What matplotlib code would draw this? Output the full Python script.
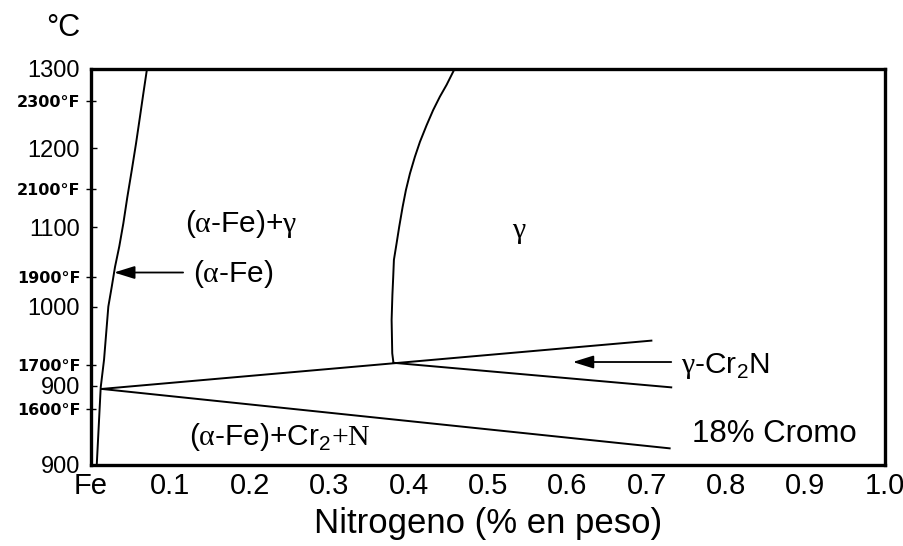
import matplotlib.pyplot as plt

plt.rcParams['font.family'] = ['Liberation Sans', 'DejaVu Sans']
plt.rcParams['mathtext.fontset'] = 'custom'
plt.rcParams['mathtext.rm'] = 'Liberation Serif'
plt.rcParams['mathtext.sf'] = 'Liberation Sans'

# ejes
n_ticks = [0.0, 0.1, 0.2, 0.3, 0.4, 0.5, 0.6, 0.7, 0.8, 0.9, 1.0]
n_labels = ['Fe', '0.1', '0.2', '0.3', '0.4', '0.5', '0.6', '0.7', '0.8', '0.9', '1.0']
t_ticks_c = [800, 900, 1000, 1100, 1200, 1300]
t_labels_c = ['900', '900', '1000', '1100', '1200', '1300']  # asi viene en el original
t_ticks_f = [1600, 1700, 1900, 2100, 2300]

# limite alfa / alfa+gamma
alfa_n = [0.0072, 0.0122, 0.0164, 0.0218, 0.0261, 0.0302, 0.0356, 0.0407,
          0.0457, 0.0513, 0.0567, 0.0617, 0.0659, 0.0705]
alfa_t = [800, 898, 933, 1000, 1025, 1050, 1076, 1105,
          1138, 1172, 1206, 1240, 1269, 1300]

# limite alfa+gamma / gamma
gamma_n = [0.381, 0.3795, 0.3787, 0.3797, 0.3807, 0.3816, 0.385, 0.3883, 0.3926,
           0.3967, 0.4018, 0.408, 0.4144, 0.4228, 0.431, 0.4395, 0.448, 0.458]
gamma_t = [929, 941, 983, 1015, 1037, 1059, 1080, 1101, 1126,
           1147, 1168, 1189, 1208, 1229, 1248, 1265, 1280, 1300]

# rectas
sup_n = [0.0135, 0.706]
sup_t = [896, 957]
gcr_n = [0.381, 0.731]
gcr_t = [929, 898]
inf_n = [0.0135, 0.729]
inf_t = [896, 821]


def f_a_c(f):
    return (f - 32) * 5 / 9


fig = plt.figure(figsize=(9.04, 5.46), dpi=100)
ax = fig.add_axes([0.1007, 0.1484, 0.878, 0.7253])

lw = 1.4
for xs, ys in [(alfa_n, alfa_t), (gamma_n, gamma_t), (sup_n, sup_t),
               (gcr_n, gcr_t), (inf_n, inf_t)]:
    ax.plot(xs, ys, color='black', lw=lw, solid_joinstyle='round')

flecha = dict(arrowstyle='-|>,head_length=0.9,head_width=0.28', color='black',
              lw=1.3, shrinkA=0, shrinkB=0, mutation_scale=14)
ax.annotate('', xy=(0.029, 1043), xytext=(0.116, 1043), arrowprops=flecha)
ax.annotate('', xy=(0.607, 930), xytext=(0.731, 930), arrowprops=flecha)

tam = 21.5
ax.text(0.118, 1094, r'($\mathrm{\alpha}$-Fe)+$\mathrm{\gamma}$', fontsize=tam, va='baseline')
ax.text(0.129, 1031, r'($\mathrm{\alpha}$-Fe)', fontsize=tam, va='baseline')
ax.text(0.540, 1087, r'$\mathrm{\gamma}$', fontsize=tam, va='baseline', ha='center')
ax.text(0.743, 916, r'$\mathrm{\gamma}$-Cr$_\mathsf{2}$N', fontsize=tam, va='baseline')
ax.text(0.757, 829, '18% Cromo', fontsize=22.5, va='baseline')
ax.text(0.124, 825, r'($\mathrm{\alpha}$-Fe)+Cr$_\mathsf{2}\mathrm{+N}$', fontsize=tam, va='baseline')

ax.set_xlim(0, 1)
ax.set_ylim(800, 1300)
ax.set_xticks(n_ticks)
ax.set_xticklabels(n_labels, fontsize=21)
ax.set_yticks(t_ticks_c)
ax.set_yticklabels(t_labels_c, fontsize=17)
ax.set_yticks([f_a_c(f) for f in t_ticks_f], minor=True)
ax.set_yticklabels([f'{f}°F' for f in t_ticks_f], minor=True, fontsize=11.5,
                   fontfamily='DejaVu Sans', fontweight='bold')
ax.tick_params(axis='x', length=0, pad=5)
ax.tick_params(axis='y', which='major', direction='in', length=4, width=1, pad=8)
ax.tick_params(axis='y', which='minor', direction='inout', length=7, width=1, pad=4)
for s in ax.spines.values():
    s.set_linewidth(2.4)

ax.set_xlabel('Nitrogeno (% en peso)', fontsize=25, labelpad=5)
fig.text(63 / 904, 1 - 28 / 546, '°C', fontsize=22, ha='center', va='center')

fig.savefig('out.png', dpi=100)
